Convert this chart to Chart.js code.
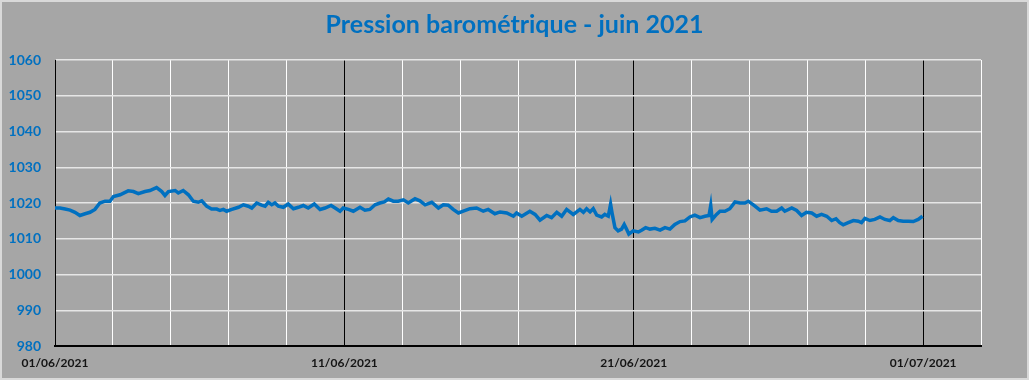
<!DOCTYPE html>
<html>
<head>
<meta charset="utf-8">
<script src="https://cdn.jsdelivr.net/npm/chart.js@4/dist/chart.umd.min.js"></script>
<style>
  body { margin: 0; background: #a6a6a6; }
</style>
</head>
<body>
<canvas id="chart" width="1029" height="380"></canvas>
<script>
// days since 01/06/2021 00:00
const days = [0, 0.17, 0.35, 0.52, 0.69, 0.86, 1.04, 1.21, 1.38, 1.55, 1.73, 1.90, 2.02, 2.25, 2.53, 2.71, 2.88, 3.11, 3.28, 3.51, 3.69, 3.80, 3.92, 4.15, 4.26, 4.43, 4.61, 4.78, 4.95, 5.07, 5.24, 5.41, 5.59, 5.70, 5.82, 5.93,
  6.11, 6.34, 6.51, 6.68, 6.80, 6.97, 7.14, 7.26, 7.37, 7.49, 7.60, 7.72, 7.89, 8.06, 8.24, 8.41, 8.58, 8.75, 8.96, 9.16, 9.33, 9.54, 9.68, 9.85, 9.96, 10.14, 10.31, 10.54, 10.71, 10.88, 11.06, 11.23, 11.38, 11.52, 11.69, 11.86, 12.04,
  12.21, 12.44, 12.61, 12.79, 13.02, 13.25, 13.42, 13.59, 13.76, 13.94, 14.11, 14.34, 14.57, 14.80, 14.97, 15.20, 15.38, 15.61, 15.84, 15.95, 16.13, 16.41, 16.59, 16.76, 16.99, 17.16, 17.34, 17.51, 17.68, 17.91,
  18.14, 18.26, 18.37, 18.49, 18.60, 18.72, 18.89, 19.00, 19.12, 19.20, 19.26, 19.35, 19.46, 19.58, 19.67, 19.75, 19.83, 19.98, 20.16, 20.27, 20.41, 20.56, 20.73, 20.91, 21.08, 21.25, 21.42, 21.60, 21.77, 21.94, 22.11, 22.29, 22.46, 22.60, 22.66, 22.71, 22.86, 22.98, 23.15, 23.32, 23.50, 23.67, 23.84, 23.96,
  24.19, 24.36, 24.59, 24.76, 24.94, 25.11, 25.22, 25.46, 25.63, 25.80, 25.97, 26.15, 26.32, 26.49, 26.67, 26.84, 26.99, 27.12, 27.24, 27.41, 27.59, 27.76, 27.87, 27.99, 28.16, 28.33, 28.51, 28.68, 28.85, 28.97, 29.14, 29.31, 29.49, 29.66, 29.83, 29.98]

// pressure in hPa
const pressure = [1018.6, 1018.6, 1018.3, 1018.0, 1017.4, 1016.5, 1017.0, 1017.4, 1018.2, 1020.0, 1020.5, 1020.5, 1021.8, 1022.3, 1023.4, 1023.2, 1022.6, 1023.2, 1023.5, 1024.3, 1023.2, 1022.1, 1023.2, 1023.5, 1022.8, 1023.5, 1022.3, 1020.5, 1020.2, 1020.6, 1019.1, 1018.3, 1018.3, 1017.9, 1018.2, 1017.7,
  1018.2, 1018.8, 1019.5, 1019.1, 1018.6, 1020.0, 1019.4, 1019.1, 1020.2, 1019.5, 1020.0, 1019.1, 1018.8, 1019.7, 1018.4, 1018.8, 1019.3, 1018.6, 1019.7, 1018.2, 1018.6, 1019.3, 1018.6, 1017.7, 1018.6, 1018.2, 1017.7, 1018.8, 1018.0, 1018.2, 1019.5, 1020.0, 1020.3, 1021.1, 1020.5, 1020.5, 1020.9,
  1020.0, 1021.2, 1020.6, 1019.5, 1020.2, 1018.6, 1019.5, 1019.4, 1018.2, 1017.2, 1017.7, 1018.4, 1018.6, 1017.7, 1018.2, 1017.0, 1017.5, 1017.2, 1016.3, 1017.2, 1016.3, 1017.7, 1016.8, 1015.2, 1016.5, 1015.9, 1017.4, 1016.3, 1018.2, 1016.8,
  1018.2, 1017.4, 1018.4, 1017.5, 1018.4, 1016.6, 1016.1, 1016.8, 1016.3, 1019.7, 1016.8, 1013.1, 1012.2, 1012.7, 1014.0, 1012.7, 1011.3, 1012.2, 1011.9, 1012.4, 1013.1, 1012.7, 1012.9, 1012.4, 1013.1, 1012.7, 1014.0, 1014.8, 1015.0, 1016.1, 1016.6, 1015.9, 1016.3, 1016.5, 1019.3, 1015.4, 1016.8, 1017.7, 1017.7, 1018.4, 1020.3, 1020.0, 1020.0, 1020.5,
  1019.1, 1018.0, 1018.4, 1017.7, 1017.7, 1018.6, 1017.7, 1018.6, 1017.9, 1016.5, 1017.4, 1017.2, 1016.3, 1016.8, 1016.3, 1015.1, 1015.6, 1014.5, 1013.9, 1014.5, 1015.1, 1014.9, 1014.5, 1015.7, 1015.1, 1015.4, 1016.1, 1015.4, 1015.1, 1015.9, 1015.1, 1014.9, 1014.9, 1014.8, 1015.4, 1016.3]

const tickDays = [0, 10, 20, 30]
const tickLabels = ['01/06/2021', '11/06/2021', '21/06/2021', '01/07/2021']
const title = 'Pression barométrique - juin 2021'

const blue = '#0070c0'

// grey background + light frame, title centred on the whole canvas
const frame = {
  id: 'frame',
  beforeDraw(chart) {
    const c = chart.ctx
    c.save()
    c.fillStyle = '#a6a6a6'
    c.fillRect(0, 0, chart.width, chart.height)
    c.strokeStyle = '#d9d9d9'
    c.lineWidth = 2
    c.strokeRect(1, 1, chart.width - 2, chart.height - 2)
    c.restore()
  },
  afterDraw(chart) {
    const c = chart.ctx
    c.save()
    c.fillStyle = blue
    c.font = 'bold 25px Lato'
    c.textAlign = 'center'
    c.textBaseline = 'middle'
    c.fillText(title, chart.width / 2, 25)
    c.restore()
  }
}

new Chart(document.getElementById('chart'), {
  type: 'line',
  data: {
    datasets: [{
      data: days.map((d, i) => ({x: d, y: pressure[i]})),
      borderColor: blue,
      borderWidth: 3.5,
      pointRadius: 0,
      tension: 0
    }]
  },
  options: {
    responsive: false,
    animation: false,
    devicePixelRatio: 1,
    layout: {padding: {top: 60, left: 0, right: 48, bottom: 0}},
    plugins: {
      legend: {display: false},
      tooltip: {enabled: false},
      title: {display: false}
    },
    scales: {
      x: {
        type: 'linear',
        min: 0,
        max: 32,
        afterFit: s => { s.height = 34 },
        afterBuildTicks: s => { s.ticks = []; for (let v = 0; v <= 32; v += 2) s.ticks.push({value: v}) },
        ticks: {
          autoSkip: false,
          maxRotation: 0,
          padding: 10,
          color: '#141414',
          font: {family: 'Lato', size: 12, weight: 'bold'},
          callback: v => { const i = tickDays.indexOf(v); return i >= 0 ? tickLabels[i] : '' }
        },
        grid: {
          drawTicks: false,
          lineWidth: 1,
          color: ctx => tickDays.includes(ctx.tick.value) ? '#000000' : '#ffffff'
        },
        border: {color: '#000000', width: 2}
      },
      y: {
        min: 980,
        max: 1060,
        afterFit: s => { s.width = 55 },
        ticks: {
          stepSize: 10,
          padding: 14,
          color: blue,
          font: {family: 'Lato', size: 14, weight: 'bold'},
          callback: v => String(v)
        },
        grid: {drawTicks: false, color: '#e6e6e6', lineWidth: 1.5},
        border: {color: '#000000', width: 1}
      }
    }
  },
  plugins: [frame]
})
</script>
</body>
</html>
